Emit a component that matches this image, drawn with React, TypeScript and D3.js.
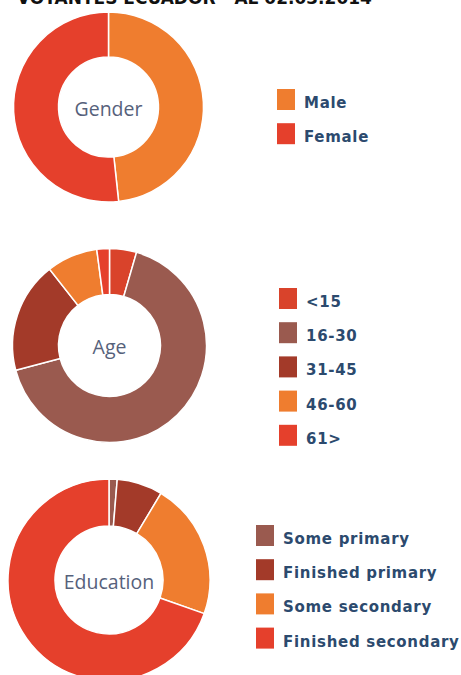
import React from 'react';
import * as d3 from 'd3';

// data
const title = 'VOTANTES ECUADOR - AL 02.03.2014';

const genderLabels = ['Male', 'Female'];
const genderValues = [48.3, 51.7];
const genderColors = ['#ef7d2f', '#e5402c'];

const ageLabels = ['<15', '16-30', '31-45', '46-60', '61>'];
const ageValues = [4.5, 66.4, 18.5, 8.5, 2.1];
const ageColors = ['#d9432b', '#9a5a4f', '#a33a29', '#ef7d2f', '#e5402c'];

const eduLabels = ['Some primary', 'Finished primary', 'Some secondary', 'Finished secondary'];
const eduValues = [1.3, 7.3, 21.8, 69.6];
const eduColors = ['#9a5a4f', '#a33a29', '#ef7d2f', '#e5402c'];

const W = 461;
const H = 675;

const legendFont = '"DejaVu Sans", Verdana, sans-serif';
const labelFont = '"Open Sans", "Noto Sans", sans-serif';

function Donut({ cx, cy, rOut, rIn, values, colors, label }) {
  const pie = d3.pie<number>().sort(null).value(d => d);
  const arc = d3.arc<d3.PieArcDatum<number>>().innerRadius(rIn).outerRadius(rOut);
  const arcs = pie(values);

  return (
    <g transform={`translate(${cx},${cy})`}>
      {arcs.map((a, i) => (
        <path key={i} d={arc(a) || ''} fill={colors[i]} stroke="#fff" strokeWidth={1.5} />
      ))}
      <text
        textAnchor="middle"
        y={2}
        dy="0.35em"
        fontFamily={labelFont}
        fontSize={19.5}
        fill="#56617b"
      >
        {label}
      </text>
    </g>
  );
}

function Legend({ x, y, labels, colors }) {
  const step = 34.2;
  return (
    <g transform={`translate(${x},${y})`}>
      {labels.map((l, i) => (
        <g key={l} transform={`translate(0,${i * step})`}>
          <rect width={18} height={21} fill={colors[i]} />
          <text
            x={27}
            y={19}
            fontFamily={legendFont}
            fontWeight="bold"
            fontSize={15}
            letterSpacing={0.7}
            fill="#2c4a6e"
          >
            {l}
          </text>
        </g>
      ))}
    </g>
  );
}

export default function App() {
  return (
    <svg
      width={W}
      height={H}
      style={{ position: 'absolute', left: 0, top: 0, background: '#fff' }}
    >
      <text
        x={17}
        y={3.5}
        fontFamily={legendFont}
        fontWeight="bold"
        fontSize={17}
        fill="#111"
      >
        {title}
      </text>

      <Donut cx={108.5} cy={107} rOut={95} rIn={50} values={genderValues} colors={genderColors} label="Gender" />
      <Legend x={277} y={89} labels={genderLabels} colors={genderColors} />

      <Donut cx={109.5} cy={345.5} rOut={97} rIn={51} values={ageValues} colors={ageColors} label="Age" />
      <Legend x={279} y={288} labels={ageLabels} colors={ageColors} />

      <Donut cx={109} cy={580} rOut={101} rIn={54} values={eduValues} colors={eduColors} label="Education" />
      <Legend x={256} y={525} labels={eduLabels} colors={eduColors} />
    </svg>
  );
}
